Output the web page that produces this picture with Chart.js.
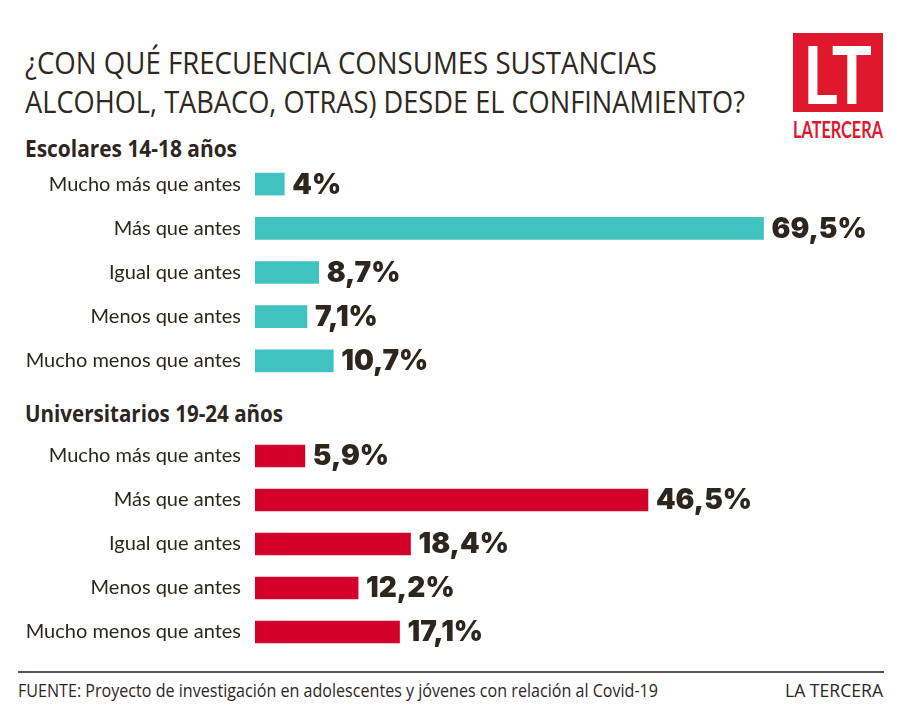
<!DOCTYPE html>
<html>
<head>
<meta charset="utf-8">
<script src="https://cdn.jsdelivr.net/npm/chart.js@4"></script>
<style>
  body { margin: 0; background: #fff; }
  #page { position: relative; width: 900px; height: 717px; overflow: hidden; color: #2d261f; }
  .txt { position: absolute; white-space: nowrap; transform-origin: 0 0; }
  .title { left: 25px; font: 400 31px/31px "Open Sans", sans-serif; color: #2e2821; }
  .group { left: 25px; font: 700 23px/23px "Open Sans", sans-serif; color: #2d261f; }
  #logo { position: absolute; left: 793px; top: 33px; width: 90px; height: 79px; background: #e0182d; }
  #logoLT { left: 803px; top: 33px; color: #fff; font: 700 80px/80px "Lato", sans-serif; }
  #logoName { left: 793px; top: 119px; font: 700 22px/22px "Lato", sans-serif; color: #e0182d; }
  #rule { position: absolute; left: 18px; top: 671px; width: 866px; height: 2px; background: #5b5650; }
  .foot { top: 681px; font: 400 18px/18px "Open Sans", sans-serif; color: #2d261f; }
  canvas { position: absolute; left: 0; }
</style>
</head>
<body>
<div id="page">
  <div class="txt title" style="top:47px" data-w="632">¿CON QUÉ FRECUENCIA CONSUMES SUSTANCIAS</div>
  <div class="txt title" style="top:86px" data-w="720">ALCOHOL, TABACO, OTRAS) DESDE EL CONFINAMIENTO?</div>
  <div id="logo"></div>
  <div id="logoLT" class="txt" data-w="69">LT</div>
  <div id="logoName" class="txt" data-w="90">LATERCERA</div>
  <div id="group1" class="txt group" style="top:137px" data-w="212"></div>
  <canvas id="chartTop" style="top:162px; width:900px; height:221px"></canvas>
  <div id="group2" class="txt group" style="top:402px" data-w="258"></div>
  <canvas id="chartBottom" style="top:434px; width:900px; height:220px"></canvas>
  <div id="rule"></div>
  <div class="txt foot" style="left:18px" data-w="640">FUENTE: Proyecto de investigación en adolescentes y jóvenes con relación al Covid-19</div>
  <div class="txt foot" style="left:785px" data-w="98">LA TERCERA</div>
</div>
<script>
// categories and values
const categories = ['Mucho más que antes', 'Más que antes', 'Igual que antes', 'Menos que antes', 'Mucho menos que antes'];
const groupNames = ['Escolares 14-18 años', 'Universitarios 19-24 años'];
const escolares = [4, 69.5, 8.7, 7.1, 10.7];
const universitarios = [5.9, 46.5, 18.4, 12.2, 17.1];

document.getElementById('group1').textContent = groupNames[0];
document.getElementById('group2').textContent = groupNames[1];

// squeeze the condensed-looking texts to the width they have in the original
document.querySelectorAll('[data-w]').forEach(function (el) {
  const w = el.getBoundingClientRect().width;
  el.style.transform = 'scaleX(' + (Number(el.dataset.w) / w) + ')';
});

const textColor = '#2d261f';

// writes the "69,5%" style label right after each bar
const valueLabels = {
  id: 'valueLabels',
  afterDatasetsDraw(chart) {
    const ctx = chart.ctx;
    const ds = chart.data.datasets[0];
    ctx.save();
    ctx.font = '900 28px Inter, sans-serif';
    ctx.fillStyle = textColor;
    ctx.textAlign = 'left';
    ctx.textBaseline = 'middle';
    chart.getDatasetMeta(0).data.forEach(function (bar, i) {
      const label = String(ds.data[i]).replace('.', ',') + '%';
      ctx.fillText(label, bar.x + 8, bar.y + 1);
    });
    ctx.restore();
  }
};

function makeChart(id, values, color, xMax) {
  return new Chart(document.getElementById(id), {
    type: 'bar',
    data: {
      labels: categories,
      datasets: [{
        data: values,
        backgroundColor: color,
        barThickness: 22
      }]
    },
    options: {
      indexAxis: 'y',
      responsive: false,
      maintainAspectRatio: false,
      animation: false,
      devicePixelRatio: 1,
      layout: { padding: { left: 0, right: 45, top: 0, bottom: 0 } },
      scales: {
        x: { display: false, min: 0, max: xMax },
        y: {
          grid: { display: false, drawTicks: false },
          border: { display: false },
          ticks: { padding: 14, color: textColor, font: { family: 'Lato', size: 20 } },
          afterFit(scale) {
            scale.width = 255;
            // no extra room above/below the first and last label
            scale.paddingTop = 0;
            scale.paddingBottom = 0;
          }
        }
      },
      plugins: { legend: { display: false }, tooltip: { enabled: false } }
    },
    plugins: [valueLabels]
  });
}

makeChart('chartTop', escolares, '#40c2c0', 82);
makeChart('chartBottom', universitarios, '#d2002b', 71);
</script>
</body>
</html>
